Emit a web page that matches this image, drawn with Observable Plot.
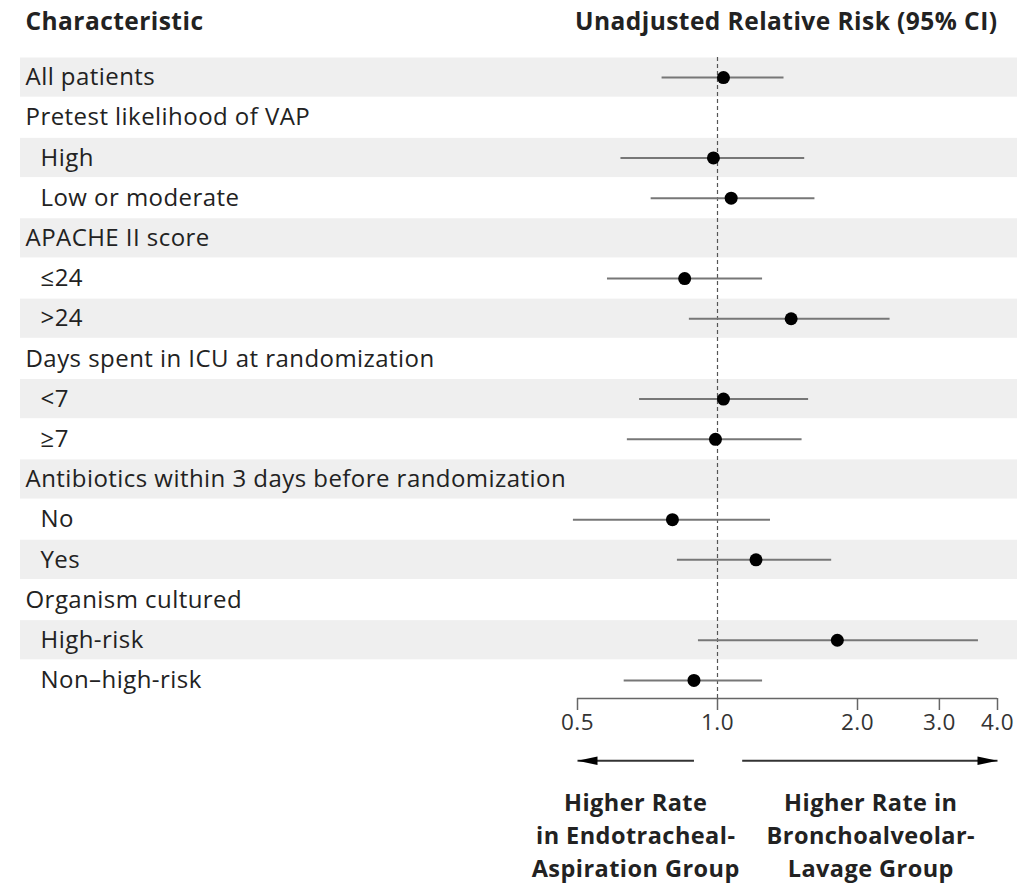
<!DOCTYPE html>
<html><head><meta charset="utf-8">
<script src="https://cdn.jsdelivr.net/npm/d3@7"></script>
<script src="https://cdn.jsdelivr.net/npm/@observablehq/plot@0.6"></script>
<style>body{margin:0;background:#fff}</style>
</head><body><div id="chart"></div>
<script>
// ---- data ----
const labels = ["All patients","Pretest likelihood of VAP","High","Low or moderate","APACHE II score","≤24",">24","Days spent in ICU at randomization","<7","≥7","Antibiotics within 3 days before randomization","No","Yes","Organism cultured","High-risk","Non–high-risk"];
const indent = [0,0,1,1,0,1,1,0,1,1,0,1,1,0,1,1];
const rr = [1.03,null,0.98,1.07,null,0.85,1.44,null,1.03,0.99,null,0.80,1.21,null,1.81,0.89];
const lo = [0.76,null,0.62,0.72,null,0.58,0.87,null,0.68,0.64,null,0.49,0.82,null,0.91,0.63];
const hi = [1.39,null,1.54,1.62,null,1.25,2.35,null,1.57,1.52,null,1.30,1.76,null,3.64,1.25];
const tickValues = [0.5,1,2,3,4];
const tickLabels = ["0.5","1.0","2.0","3.0","4.0"];
const arrowFrom = [0.89,1.13];
const arrowTo = [0.5,4.0];
const arrowDir = ["left","right"];
const noteX = [0.667,2.136];
const notes = ["Higher Rate\nin Endotracheal-\nAspiration Group","Higher Rate in\nBronchoalveolar-\nLavage Group"];
const headers = ["Characteristic","Unadjusted Relative Risk (95% CI)"];

// ---- build ----
const rows = labels.map((label,i)=>({i,label,indent:indent[i],rr:rr[i],lo:lo[i],hi:hi[i]}));
const est = rows.filter(d=>d.rr!=null);
const shaded = rows.filter(d=>d.i%2===0);
const yMax = labels.length - 0.55;
const arrowRow = labels.length + 1;
const arrows = arrowFrom.map((f,i)=>({from:f,to:arrowTo[i],dir:arrowDir[i],y:arrowRow}));
const noteData = notes.map((t,i)=>({x:noteX[i],text:t}));

function tri(dir){
  return {draw(ctx,size){
    const r = Math.sqrt(size/Math.PI);
    const s = dir==="left"?1:-1;
    ctx.moveTo(-s*r,0); ctx.lineTo(s*r,-r*0.42); ctx.lineTo(s*r,r*0.42); ctx.closePath();
  }};
}

const ink = "#222";
const chart = Plot.plot({
  width:1019, height:884,
  marginLeft:577, marginRight:22, marginTop:57, marginBottom:186,
  x:{type:"log", domain:[0.5,4]},
  y:{domain:[-0.5,yMax], reverse:true, axis:null},
  style:{fontFamily:"'Open Sans', sans-serif", fontSize:"24px", color:ink, background:"#fff", overflow:"visible", letterSpacing:"0.45px"},
  marks:[
    Plot.rect(shaded,{y1:d=>d.i-0.5,y2:d=>d.i+0.5,fill:"#efefef",insetLeft:-557,insetRight:-20,insetTop:0.5,insetBottom:0.5}),
    Plot.ruleX([1],{stroke:"#555",strokeDasharray:"4,3",strokeWidth:1.2}),
    Plot.ruleY(est,{y:"i",x1:"lo",x2:"hi",stroke:"#777",strokeWidth:2}),
    Plot.dot(est,{x:"rr",y:"i",r:6.5,fill:"#000"}),
    Plot.text(rows.filter(d=>d.indent===0),{y:"i",text:"label",frameAnchor:"left",textAnchor:"start",dx:-552,fill:ink,fontSize:24}),
    Plot.text(rows.filter(d=>d.indent===1),{y:"i",text:"label",frameAnchor:"left",textAnchor:"start",dx:-537,fill:ink,fontSize:24}),
    Plot.ruleY([yMax],{x1:tickValues[0],x2:tickValues[tickValues.length-1],stroke:"#666",strokeWidth:1.5}),
    Plot.axisX({ticks:tickValues,tickFormat:(d)=>tickLabels[tickValues.indexOf(d)],tickSize:12,tickPadding:4,stroke:"#666",strokeWidth:1.5,fill:"#333",fontSize:22.5,label:null}),
    Plot.link(arrows,{x1:"from",x2:"to",y1:"y",y2:"y",stroke:"#333",strokeWidth:2}),
    Plot.dot(arrows.filter(d=>d.dir==="left"),{x:"to",y:"y",r:10,dx:10,symbol:tri("left"),fill:"#000",stroke:"none"}),
    Plot.dot(arrows.filter(d=>d.dir==="right"),{x:"to",y:"y",r:10,dx:-10,symbol:tri("right"),fill:"#000",stroke:"none"}),
    Plot.text(noteData,{x:"x",text:"text",frameAnchor:"bottom",lineAnchor:"middle",dy:135,lineHeight:1.4,fontSize:23.5,fontWeight:"bold",fill:ink}),
    Plot.text([headers[0]],{frameAnchor:"top-left",lineAnchor:"middle",dx:-552,dy:-35,textAnchor:"start",fontWeight:"bold",fontSize:24.5,fill:ink}),
    Plot.text([headers[1]],{frameAnchor:"top-right",lineAnchor:"middle",dx:0,dy:-35,textAnchor:"end",fontWeight:"bold",fontSize:24.5,fill:ink})
  ]
});
document.getElementById("chart").append(chart);
</script>
</body></html>
